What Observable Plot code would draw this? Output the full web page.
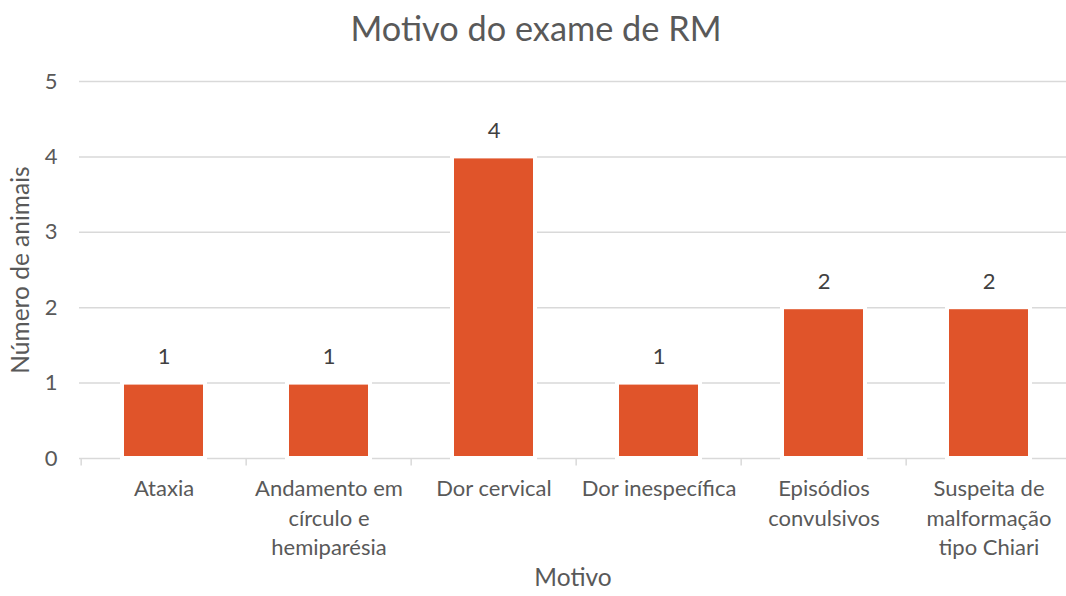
<!DOCTYPE html>
<html>
<head>
<meta charset="utf-8">
<script src="https://cdn.jsdelivr.net/npm/d3@7"></script>
<script src="https://cdn.jsdelivr.net/npm/@observablehq/plot@0.6"></script>
<style>
  body { margin: 0; background: #fff; font-family: Lato, "Open Sans", sans-serif; }
  #title { height: 56px; line-height: 56px; text-align: center; font-size: 34.3px; color: #595959; width: 1066px; padding-left: 6px; box-sizing: border-box; }
</style>
</head>
<body>
<div id="title">Motivo do exame de RM</div>
<div id="chart"></div>
<script>
const categories = ["Ataxia", "Andamento em círculo e hemiparésia", "Dor cervical", "Dor inespecífica", "Episódios convulsivos", "Suspeita de malformação tipo Chiari"];
const tickLabels = ["Ataxia", "Andamento em\ncírculo e\nhemiparésia", "Dor cervical", "Dor inespecífica", "Episódios\nconvulsivos", "Suspeita de\nmalformação\ntipo Chiari"];
const values = [1, 1, 4, 1, 2, 2];
const yTicks = [0, 1, 2, 3, 4, 5];

const data = categories.map((c, i) => ({ motivo: c, n: values[i] }));
const labelOf = new Map(categories.map((c, i) => [c, tickLabels[i]]));

const W = 1066, H = 540;
const xRange = [79, 1073];
const step = (xRange[1] - xRange[0]) / categories.length;
const gray = "#d9d9d9";
const textColor = "#595959";
const fs = 22;
const fsTitle = 24.5;

const chart = Plot.plot({
  width: W,
  height: H,
  marginTop: 25,
  marginBottom: 138,
  marginLeft: 79,
  marginRight: 0,
  style: { fontFamily: "Lato, 'Open Sans', sans-serif", fontSize: fs + "px", color: textColor, background: "#fff", overflow: "hidden" },
  x: { domain: categories, range: xRange, paddingInner: 0.5, paddingOuter: 0.25, align: 0.5 },
  y: { domain: [0, 5], ticks: yTicks },
  marks: [
    Plot.gridY(yTicks.slice(1), { stroke: gray, strokeOpacity: 1, strokeWidth: 1.5 }),
    Plot.ruleY([0], { stroke: gray, strokeWidth: 1.5 }),
    Plot.ruleX(categories, { x: d => d, dx: -step / 2, y1: 0, y2: -0.1, stroke: gray, strokeWidth: 1.5 }),
    Plot.barY(data, { x: "motivo", y: "n", fill: "#E0542A", stroke: "#fff", strokeWidth: 4 }),
    Plot.text(data, { x: "motivo", y: "n", text: d => String(d.n), dy: -26, fill: "#404040", fontSize: fs }),
    Plot.axisY(yTicks, { tickSize: 0, tickPadding: 22, fill: textColor, fontSize: fs, tickFormat: d => String(d), label: null }),
    Plot.axisX({ tickSize: 0, tickPadding: 17, tickFormat: d => labelOf.get(d), lineHeight: 1.33,
      fill: textColor, fontSize: fs, label: null }),
    Plot.text(["Número de animais"], { frameAnchor: "left", textAnchor: "middle", rotate: -90, dx: -58, fill: textColor, fontSize: fsTitle }),
    Plot.text(["Motivo"], { frameAnchor: "bottom", dy: 127, fill: textColor, fontSize: fsTitle })
  ]
});
document.getElementById("chart").appendChild(chart);
</script>
</body>
</html>
